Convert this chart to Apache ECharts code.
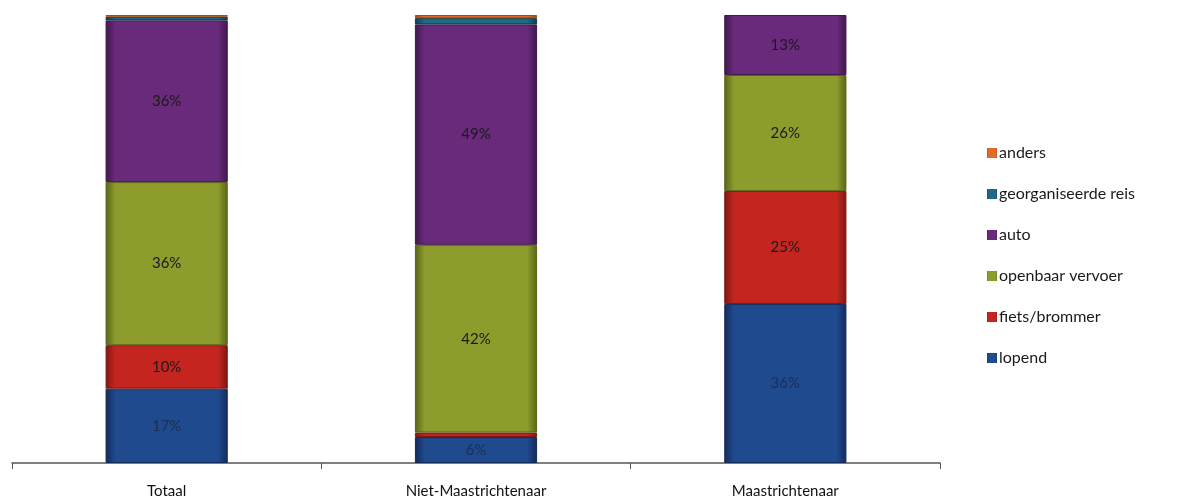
<!DOCTYPE html>
<html><head><meta charset="utf-8">
<script src="https://cdn.jsdelivr.net/npm/echarts@6/dist/echarts.min.js"></script>
<style>html,body{margin:0;padding:0;background:#fff}#c{width:1180px;height:500px}</style>
</head><body><div id="c"></div>
<script>
const categories = ['Totaal', 'Niet-Maastrichtenaar', 'Maastrichtenaar'];
const lopend = [16.6, 5.8, 35.5];
const fiets = [9.7, 1.0, 25.2];
const openbaar = [36.4, 41.9, 25.9];
const auto = [36.1, 49.2, 13.4];
const georganiseerd = [0.8, 1.4, null];
const anders = [0.4, 0.7, null];
const labelValues = {
  lopend: ['17%', '6%', '36%'],
  fiets: ['10%', '', '25%'],
  openbaar: ['36%', '42%', '26%'],
  auto: ['36%', '49%', '13%']
};

function grad(c1, c2) {
  return new echarts.graphic.LinearGradient(0, 0, 1, 0, [
    {offset: 0, color: c2}, {offset: 0.08, color: c1}, {offset: 0.92, color: c1}, {offset: 1, color: c2}
  ]);
}
function mk(name, data, c1, c2, key, labelColor) {
  return {
    name, type: 'bar', stack: 't', data, barWidth: '39.5%',
    itemStyle: {color: grad(c1, c2), borderColor: c2, borderWidth: 1},
    label: key ? {
      show: true, position: 'inside', fontSize: 15, fontFamily: 'Lato, sans-serif',
      color: labelColor || '#1a1a1a',
      formatter: p => labelValues[key][p.dataIndex]
    } : {show: false},
    emphasis: {disabled: true}
  };
}
const chart = echarts.init(document.getElementById('c'));
chart.setOption({
  animation: false,
  backgroundColor: '#fff',
  grid: {left: 12, right: 240, top: 15, bottom: 37},
  legend: {
    orient: 'vertical', left: 982, top: 138,
    data: ['anders', 'georganiseerde reis', 'auto', 'openbaar vervoer', 'fiets/brommer', 'lopend'],
    itemWidth: 10, itemHeight: 10, itemGap: 21,
    icon: 'rect',
    itemStyle: {borderWidth: 0},
    textStyle: {fontSize: 16, fontFamily: 'Lato, sans-serif', color: '#1a1a1a', lineHeight: 20, padding: [0, 0, 0, -3]}
  },
  xAxis: {
    type: 'category', data: categories,
    axisLine: {lineStyle: {color: '#555', width: 1.5}},
    axisTick: {show: true, length: 6, lineStyle: {color: '#555'}},
    axisLabel: {fontSize: 15, fontFamily: 'Lato, sans-serif', color: '#111', margin: 21}
  },
  yAxis: {type: 'value', min: 0, max: 100, show: false, splitLine: {show: false}},
  series: [
    mk('lopend', lopend, '#1f4a8e', '#142a58', 'lopend', '#1a2f55'),
    mk('fiets/brommer', fiets, '#c4261f', '#7d1712', 'fiets'),
    mk('openbaar vervoer', openbaar, '#8d9c2c', '#5a6418', 'openbaar'),
    mk('auto', auto, '#6a2a7c', '#3f184a', 'auto'),
    mk('georganiseerde reis', georganiseerd, '#1f6a86', '#113d4e'),
    mk('anders', anders, '#e36b28', '#a84a17')
  ]
});
</script></body></html>
